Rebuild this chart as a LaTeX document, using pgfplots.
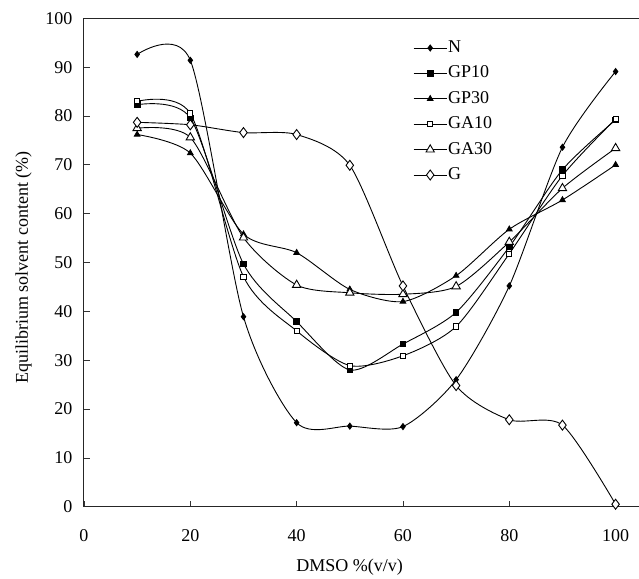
\documentclass[border=0pt]{standalone}
\usepackage{fontspec}
\setmainfont{Liberation Serif}
\usepackage{pgfplots}
\pgfplotsset{compat=1.18}
\newcommand\fs{\fontsize{18bp}{21bp}\selectfont}

\begin{document}
\begin{tikzpicture}
\path[use as bounding box] (-84bp,-72.3bp) rectangle (555bp,506.7bp);
\begin{axis}[
    at={(0,0)}, anchor=south west,
    scale only axis, width=555bp, height=488.4bp,
    xmin=0, xmax=104.4, ymin=0, ymax=100,
    axis x line*=box, axis y line*=left,
    axis line style={-, line width=1bp, black!85},
    xtick={0,20,...,100}, ytick={0,10,...,100},
    xtick pos=left, ytick pos=left,
    tick align=inside, major tick length=6bp,
    tick style={black!80, line width=0.7bp},
    /pgf/number format/assume math mode=true,
    tick label style={font=\fs},
    xticklabel style={yshift=-19bp},
    yticklabel style={xshift=-8bp},
    xlabel={DMSO \%(v/v)},
    ylabel={Equilibrium solvent content (\%)},
    label style={font=\fs},
    xlabel style={at={(axis description cs:0.4785,-0.132)}, anchor=base},
    ylabel style={at={(axis description cs:-0.101,0.49)}, anchor=base},
    legend style={at={(axis cs:61.9,95.9)}, anchor=north west, draw=none, fill=none,
        inner sep=0pt, row sep=6.4bp, font=\fs,
        nodes={inner sep=1bp, text height=13bp, text depth=4bp}},
    legend cell align=left,
    legend image code/.code={\draw[mark repeat=2,mark phase=2,#1] plot coordinates {(0bp,0bp) (16.5bp,0bp) (33bp,0bp)};},
    every axis plot/.append style={black, line width=0.9bp, smooth, tension=0.45},
]
\addplot[mark=diamond*, mark size=3bp, mark options={fill=black}] coordinates {
(10,92.6) (20,91.4) (30,38.9) (40,17.2) (50,16.5) (60,16.4) (70,26.0) (80,45.2) (90,73.6) (100,89.1)};
\addlegendentry{N}
\addplot[mark=square*, mark size=2.8bp, mark options={fill=black}] coordinates {
(10,82.3) (20,79.6) (30,49.7) (40,37.9) (50,28.0) (60,33.3) (70,39.8) (80,53.2) (90,69.0) (100,79.2)};
\addlegendentry{GP10}
\addplot[mark=triangle*, mark size=3.2bp, mark options={fill=black}] coordinates {
(10,76.2) (20,72.4) (30,55.8) (40,52.0) (50,44.5) (60,42.0) (70,47.3) (80,56.8) (90,62.8) (100,70.0)};
\addlegendentry{GP30}
\addplot[mark=square*, mark size=2.6bp, mark options={fill=white}] coordinates {
(10,83.0) (20,80.5) (30,47.1) (40,36.0) (50,28.9) (60,30.9) (70,36.9) (80,51.8) (90,67.8) (100,79.4)};
\addlegendentry{GA10}
\addplot[mark=triangle*, mark size=4.8bp, mark options={fill=white}] coordinates {
(10,77.5) (20,75.6) (30,55.1) (40,45.4) (50,43.8) (60,43.5) (70,45.1) (80,54.2) (90,65.2) (100,73.4)};
\addlegendentry{GA30}
\addplot[mark=diamond*, mark size=5bp, mark options={fill=white}] coordinates {
(10,78.7) (20,78.2) (30,76.6) (40,76.2) (50,69.9) (60,45.2) (70,24.8) (80,17.8) (90,16.7) (100,0.5)};
\addlegendentry{G}
\end{axis}
\end{tikzpicture}
\end{document}
